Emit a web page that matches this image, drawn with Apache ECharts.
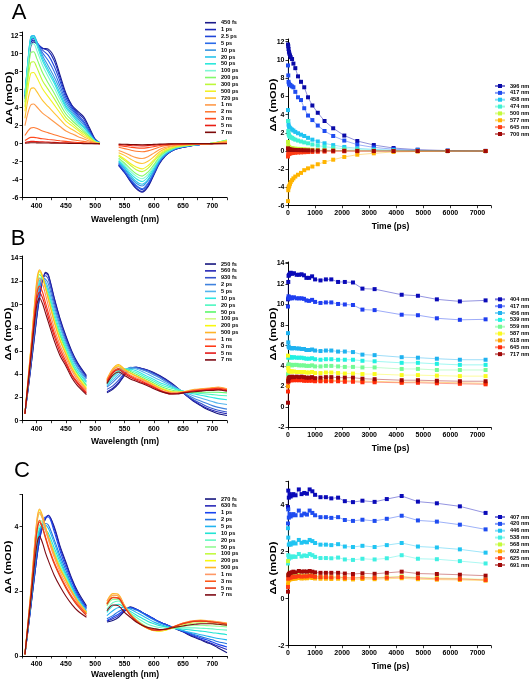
<!DOCTYPE html>
<html><head><meta charset="utf-8">
<script src="https://cdn.jsdelivr.net/npm/echarts@6/dist/echarts.min.js"></script>
<style>html,body{margin:0;padding:0;background:#fff}#c{width:529px;height:684px}</style>
</head><body><div id="c"></div>
<script>
// ---------- Panel A: spectra ----------
const wlA = [380,385,390,395,400,410,420,430,440,450,460,470,480,490,500,508, 524, 540,550,560,570,580,590,600,610,620,630,640,660,680,700,725];
const labelsA = ['450 fs','1 ps','2.5 ps','5 ps','10 ps','20 ps','50 ps','100 ps','200 ps','300 ps','500 ps','720 ps','1 ns','2 ns','3 ns','5 ns','7 ns'];
const colorsA = ['#1b1b8a','#1c2ab8','#1f45d8','#2a6ae8','#3a95e0','#28c4ec','#2ee8dc','#7ef7d4','#84f86a','#bdf83a','#f2f226','#ffc433','#ff9a4a','#ff7a33','#ff4a1e','#e81e14','#7d0a0a'];
const spectraA = [
 [5.0,8.0,10.8,11.3,11.1,10.6,10.5,9.6,7.6,5.6,4.3,3.6,3.0,1.8,0.5,0.1,null,-2.4,-3.2,-4.2,-5.0,-5.4,-4.8,-3.5,-2.2,-1.35,-0.85,-0.55,-0.27,-0.1,0,0.3],
 [5.2,8.3,11.2,11.5,11.2,10.6,10.3,9.2,7.3,5.4,4.2,3.4,2.8,1.6,0.4,0.1,null,-2.4,-3.2,-4.1,-4.9,-5.3,-4.7,-3.4,-2.1,-1.3,-0.85,-0.55,-0.27,-0.1,0,0.3],
 [5.3,8.6,11.4,11.7,11.3,10.4,9.8,8.6,6.9,5.1,4.0,3.2,2.5,1.4,0.4,0.1,null,-2.3,-3.1,-4.0,-4.7,-5.1,-4.5,-3.3,-2.0,-1.25,-0.8,-0.5,-0.25,-0.1,0.02,0.3],
 [5.4,8.8,11.6,11.8,11.3,10.1,9.2,8.0,6.4,4.8,3.8,3.0,2.3,1.3,0.35,0.1,null,-2.2,-3.0,-3.9,-4.65,-5.0,-4.4,-3.25,-2.0,-1.25,-0.8,-0.5,-0.25,-0.1,0.02,0.3],
 [5.5,9.0,11.8,12.0,11.4,9.8,8.6,7.4,6.0,4.5,3.6,2.8,2.1,1.2,0.3,0.1,null,-2.1,-2.8,-3.7,-4.4,-4.7,-4.1,-3.05,-1.9,-1.2,-0.75,-0.47,-0.23,-0.08,0.03,0.35],
 [5.5,9.1,11.9,12.0,11.3,9.5,8.2,7.0,5.6,4.2,3.4,2.6,1.9,1.1,0.3,0.1,null,-2.0,-2.7,-3.5,-4.2,-4.5,-4.0,-2.9,-1.8,-1.1,-0.72,-0.45,-0.22,-0.08,0.03,0.35],
 [5.4,9.0,11.7,11.8,11.0,9.2,7.9,6.7,5.3,4.0,3.2,2.4,1.8,1.0,0.3,0.1,null,-1.9,-2.5,-3.3,-3.9,-4.2,-3.7,-2.7,-1.7,-1.05,-0.67,-0.42,-0.2,-0.07,0.04,0.4],
 [5.0,8.5,11.0,11.1,10.4,8.7,7.4,6.2,4.9,3.7,2.9,2.2,1.6,0.9,0.25,0.05,null,-1.75,-2.35,-3.05,-3.6,-3.9,-3.45,-2.55,-1.6,-1.0,-0.62,-0.4,-0.2,-0.07,0.04,0.4],
 [4.6,7.8,10.1,10.2,9.5,7.9,6.7,5.6,4.4,3.3,2.6,2.0,1.4,0.8,0.2,0.05,null,-1.6,-2.15,-2.8,-3.35,-3.6,-3.15,-2.35,-1.45,-0.9,-0.58,-0.36,-0.18,-0.06,0.04,0.4],
 [4.1,7.0,9.0,9.1,8.5,7.0,6.0,5.0,3.9,2.9,2.3,1.7,1.2,0.7,0.2,0.05,null,-1.4,-1.85,-2.4,-2.9,-3.1,-2.75,-2.0,-1.25,-0.78,-0.5,-0.31,-0.15,-0.05,0.03,0.35],
 [3.6,6.1,7.8,7.9,7.4,6.1,5.2,4.3,3.4,2.5,2.0,1.5,1.0,0.6,0.15,0.05,null,-1.25,-1.7,-2.2,-2.6,-2.8,-2.45,-1.8,-1.1,-0.7,-0.45,-0.28,-0.14,-0.05,0.03,0.3],
 [2.8,4.8,6.1,6.2,5.8,4.8,4.1,3.4,2.7,2.0,1.6,1.2,0.8,0.45,0.1,0,null,-1.0,-1.3,-1.7,-2.05,-2.2,-1.95,-1.45,-0.9,-0.55,-0.35,-0.22,-0.11,-0.04,0.02,0.25],
 [2.0,3.4,4.3,4.4,4.1,3.4,2.9,2.4,1.9,1.4,1.1,0.8,0.55,0.3,0.1,0,null,-0.75,-1.0,-1.3,-1.55,-1.65,-1.45,-1.05,-0.65,-0.4,-0.26,-0.17,-0.08,-0.03,0.02,0.2],
 [0.9,1.4,1.75,1.8,1.7,1.4,1.2,1.0,0.8,0.6,0.45,0.35,0.25,0.15,0.05,0,null,-0.4,-0.55,-0.7,-0.85,-0.9,-0.8,-0.6,-0.36,-0.22,-0.15,-0.09,-0.05,-0.02,0.01,0.1],
 [0.35,0.55,0.7,0.7,0.65,0.55,0.47,0.4,0.32,0.25,0.18,0.13,0.1,0.05,0.02,0,null,-0.22,-0.3,-0.39,-0.47,-0.5,-0.44,-0.33,-0.2,-0.13,-0.08,-0.05,-0.03,-0.01,0,0.05],
 [0.12,0.2,0.25,0.25,0.23,0.2,0.17,0.14,0.11,0.09,0.07,0.05,0.03,0.02,0,0,null,-0.11,-0.15,-0.2,-0.23,-0.25,-0.22,-0.16,-0.1,-0.06,-0.04,-0.03,-0.01,0,0,0.02],
 [0.05,0.08,0.1,0.1,0.09,0.08,0.07,0.06,0.05,0.04,0.03,0.02,0.01,0,0,0,null,-0.05,-0.07,-0.09,-0.11,-0.12,-0.11,-0.08,-0.05,-0.03,-0.02,-0.01,0,0,0,0]
];
// ---------- Panel A: kinetics ----------
const timeA = [0,10,20,35,50,75,100,150,200,270,370,480,600,740,900,1100,1350,1670,2080,2560,3170,3900,4790,5900,7300];
const probeA = ['396 nm','417 nm','458 nm','474 nm','500 nm','577 nm','645 nm','700 nm'];
const kColorsA = ['#0a0aa8','#1f4cf0','#20c4f2','#3ef2d2','#c4fa3a','#ffb400','#ff3c14','#a00808'];
const kinA = [
 [11.7,11.5,11.2,10.9,10.7,10.5,10.3,10.1,9.6,9.1,8.2,7.6,7.0,5.9,5.0,4.2,3.3,2.5,1.7,1.1,0.66,0.33,0.15,0.05,0.02],
 [9.4,8.3,7.6,7.4,7.3,7.25,7.2,7.1,7.0,6.5,5.9,5.6,4.7,3.9,3.4,2.8,2.2,1.65,1.15,0.7,0.4,0.2,0.08,0.02,0],
 [4.5,3.3,2.9,2.7,2.6,2.5,2.45,2.35,2.25,2.1,1.95,1.8,1.65,1.45,1.25,1.05,0.85,0.65,0.45,0.3,0.18,0.1,0.05,0.02,0],
 [3.3,2.2,1.9,1.75,1.65,1.55,1.5,1.45,1.35,1.25,1.15,1.05,0.95,0.85,0.72,0.6,0.48,0.37,0.26,0.17,0.1,0.05,0.02,0,0],
 [1.0,0.6,0.45,0.4,0.37,0.35,0.33,0.3,0.28,0.26,0.24,0.22,0.2,0.17,0.14,0.12,0.09,0.07,0.05,0.03,0.02,0.01,0,0,0],
 [-5.5,-4.3,-4.0,-3.9,-3.8,-3.6,-3.4,-3.2,-3.0,-2.8,-2.6,-2.4,-2.1,-1.9,-1.7,-1.45,-1.2,-0.95,-0.65,-0.4,-0.25,-0.1,-0.05,0,0],
 [-0.6,-0.35,-0.3,-0.28,-0.26,-0.25,-0.24,-0.22,-0.2,-0.18,-0.16,-0.15,-0.13,-0.11,-0.1,-0.08,-0.06,-0.05,-0.03,-0.02,-0.01,0,0,0,0],
 [0.3,0.2,0.18,0.17,0.16,0.15,0.15,0.14,0.13,0.12,0.11,0.1,0.09,0.08,0.07,0.06,0.05,0.04,0.03,0.02,0.01,0,0,0,0]
];
// ---------- Panel B: spectra ----------
const wlB = [380,390,400,405,410,415,420,430,440,450,460,470,485, 502, 520,530,540,550,560,570,580,590,600,610,620,630,640,650,660,670,680,690,700,710,725];
const labelsB = ['250 fs','560 fs','930 fs','2 ps','5 ps','10 ps','20 ps','50 ps','100 ps','200 ps','500 ps','1 ns','3 ns','5 ns','7 ns'];
const colorsB = ['#15157e','#2424b4','#3552cc','#3f82de','#52b4ee','#2ee8e2','#4cf8c0','#5cf86a','#d4fa8a','#f8f80e','#ffb428','#ff8c58','#ff3a18','#e41818','#7d0a14'];
const spectraB = [
 [0.6,4.5,8.8,10.6,12.0,12.8,12.6,10.6,8.8,7.3,6.0,5.0,3.9,null,2.4,2.7,3.2,3.9,4.5,4.6,4.5,4.35,4.15,3.9,3.6,3.25,2.85,2.4,2.0,1.6,1.3,1.0,0.8,0.6,0.45],
 [0.6,4.6,8.9,10.7,12.0,12.7,12.5,10.5,8.7,7.2,5.9,4.9,3.8,null,2.5,2.8,3.3,4.0,4.5,4.6,4.5,4.35,4.1,3.85,3.55,3.2,2.8,2.4,2.0,1.65,1.35,1.1,0.9,0.75,0.6],
 [0.6,4.8,9.2,11.0,12.2,12.5,12.2,10.2,8.5,7.0,5.8,4.8,3.7,null,2.7,3.0,3.5,4.1,4.55,4.6,4.45,4.3,4.05,3.8,3.5,3.15,2.8,2.4,2.05,1.75,1.5,1.25,1.05,0.9,0.75],
 [0.6,5.0,9.6,11.4,12.3,12.2,11.8,9.9,8.2,6.8,5.6,4.6,3.6,null,2.9,3.3,3.8,4.3,4.6,4.55,4.4,4.2,3.95,3.7,3.4,3.1,2.8,2.45,2.15,1.9,1.7,1.5,1.3,1.15,1.0],
 [0.6,5.2,10.0,11.8,12.3,12.0,11.4,9.6,8.0,6.6,5.4,4.5,3.4,null,3.0,3.5,4.0,4.4,4.55,4.45,4.25,4.0,3.75,3.5,3.25,3.0,2.75,2.5,2.3,2.1,1.95,1.8,1.65,1.5,1.4],
 [0.6,5.4,10.4,12.1,12.3,11.8,11.1,9.3,7.7,6.4,5.2,4.3,3.3,null,3.1,3.7,4.2,4.45,4.45,4.3,4.05,3.8,3.55,3.3,3.1,2.9,2.7,2.55,2.4,2.3,2.2,2.1,2.0,1.9,1.8],
 [0.6,5.6,10.9,12.3,12.3,11.6,10.9,9.0,7.5,6.2,5.0,4.1,3.1,null,3.2,3.9,4.35,4.45,4.35,4.15,3.9,3.65,3.4,3.15,2.95,2.8,2.65,2.55,2.45,2.4,2.35,2.3,2.25,2.2,2.15],
 [0.6,5.8,11.3,12.6,12.3,11.5,10.7,8.8,7.3,6.0,4.8,4.0,3.0,null,3.3,4.1,4.5,4.45,4.25,4.0,3.75,3.5,3.25,3.0,2.8,2.65,2.55,2.5,2.45,2.45,2.45,2.45,2.45,2.45,2.4],
 [0.6,6.0,11.6,12.8,12.4,11.5,10.6,8.7,7.1,5.9,4.7,3.9,2.9,null,3.4,4.3,4.65,4.4,4.15,3.9,3.65,3.4,3.15,2.9,2.7,2.55,2.5,2.5,2.55,2.6,2.65,2.65,2.65,2.65,2.6],
 [0.6,6.1,11.8,12.9,12.4,11.5,10.5,8.6,7.0,5.8,4.6,3.8,2.8,null,3.5,4.4,4.75,4.4,4.1,3.85,3.6,3.35,3.1,2.85,2.65,2.5,2.45,2.5,2.55,2.65,2.7,2.75,2.75,2.8,2.7],
 [0.6,6.2,12.0,13.0,12.5,11.5,10.5,8.5,6.9,5.7,4.5,3.7,2.7,null,3.6,4.5,4.85,4.45,4.1,3.85,3.6,3.35,3.05,2.8,2.6,2.45,2.45,2.5,2.6,2.7,2.75,2.8,2.85,2.9,2.75],
 [0.6,6.0,11.4,12.3,11.8,10.9,9.9,8.0,6.5,5.4,4.3,3.5,2.6,null,3.5,4.35,4.65,4.3,3.95,3.7,3.5,3.25,2.95,2.7,2.5,2.4,2.4,2.45,2.55,2.65,2.7,2.75,2.8,2.85,2.7],
 [0.6,5.7,10.8,11.6,11.1,10.2,9.3,7.6,6.2,5.1,4.0,3.3,2.45,null,3.4,4.2,4.5,4.15,3.85,3.6,3.4,3.15,2.9,2.65,2.45,2.35,2.35,2.45,2.5,2.6,2.65,2.7,2.75,2.8,2.65],
 [0.6,5.5,10.4,11.1,10.6,9.8,8.9,7.3,5.9,4.9,3.9,3.2,2.35,null,3.3,4.1,4.4,4.05,3.75,3.5,3.3,3.1,2.85,2.6,2.4,2.3,2.35,2.4,2.5,2.55,2.6,2.65,2.7,2.7,2.6],
 [0.6,5.3,9.9,10.6,10.1,9.3,8.5,6.9,5.6,4.7,3.7,3.0,2.25,null,3.2,3.9,4.2,3.9,3.6,3.4,3.2,3.0,2.75,2.55,2.4,2.3,2.3,2.4,2.45,2.5,2.55,2.6,2.6,2.65,2.55]
];
// ---------- Panel B: kinetics ----------
const timeB = [0,10,20,40,70,100,150,220,320,410,500,590,680,780,890,1000,1200,1400,1600,1850,2100,2400,2750,3200,4200,4800,5500,6350,7300];
const probeB = ['404 nm','417 nm','456 nm','539 nm','559 nm','587 nm','618 nm','645 nm','717 nm'];
const kColorsB = ['#0a0ab8','#1f3ef0','#1fb2f0','#22f0e2','#74fa94','#fafa1e','#ffa000','#ff2a0a','#a00808'];
const kinB = [
 [10.5,12.2,12.8,12.9,13.0,13.1,13.0,13.05,12.9,12.9,12.95,12.85,12.6,12.6,12.75,12.45,12.35,12.45,12.45,12.2,12.2,12.15,11.55,11.5,10.95,10.85,10.5,10.3,10.4],
 [9.8,10.6,10.8,10.7,10.6,10.7,10.6,10.7,10.6,10.6,10.6,10.55,10.4,10.35,10.45,10.25,10.15,10.2,10.2,10.05,10.0,9.95,9.5,9.45,9.0,8.95,8.65,8.5,8.55],
 [7.2,6.3,5.9,5.8,5.75,5.75,5.7,5.75,5.7,5.7,5.65,5.65,5.55,5.55,5.6,5.5,5.45,5.5,5.5,5.4,5.4,5.35,5.1,5.05,4.85,4.8,4.7,4.6,4.6],
 [4.0,4.8,4.9,4.85,4.85,4.85,4.8,4.85,4.8,4.8,4.8,4.75,4.7,4.7,4.75,4.65,4.6,4.65,4.65,4.6,4.6,4.6,4.5,4.45,4.3,4.3,4.2,4.1,4.1],
 [3.2,4.0,4.15,4.1,4.1,4.1,4.05,4.1,4.1,4.05,4.05,4.05,4.0,4.0,4.05,3.95,3.95,4.0,4.0,3.95,3.9,3.9,3.85,3.85,3.7,3.7,3.6,3.6,3.6],
 [5.0,3.8,3.55,3.5,3.45,3.45,3.45,3.45,3.4,3.4,3.4,3.4,3.35,3.35,3.4,3.3,3.3,3.35,3.35,3.3,3.25,3.25,3.2,3.2,3.1,3.1,3.05,3.0,3.0],
 [2.0,2.6,2.7,2.7,2.7,2.7,2.7,2.7,2.7,2.7,2.7,2.65,2.65,2.6,2.65,2.6,2.6,2.6,2.6,2.55,2.55,2.55,2.5,2.5,2.4,2.45,2.4,2.35,2.3],
 [1.5,2.4,2.55,2.6,2.6,2.6,2.6,2.6,2.6,2.6,2.6,2.55,2.55,2.55,2.55,2.5,2.5,2.5,2.5,2.5,2.45,2.45,2.4,2.4,2.35,2.35,2.3,2.25,2.2],
 [0.4,2.5,2.8,2.85,2.9,2.9,2.95,2.9,2.95,2.9,2.95,2.9,2.85,2.85,2.9,2.8,2.85,2.9,2.9,2.85,2.85,2.85,2.75,2.7,2.6,2.6,2.55,2.5,2.5]
];
// ---------- Panel C: spectra ----------
const wlC = [380,390,400,405,410,415,420,430,440,450,460,470,485, 502, 520,530,540,550,560,570,580,590,600,610,620,630,640,650,660,670,680,690,700,710,725];
const labelsC = ['270 fs','630 fs','1 ps','2 ps','5 ps','10 ps','20 ps','50 ps','100 ps','200 ps','500 ps','1 ns','3 ns','5 ns','7 ns'];
const colorsC = ['#15157e','#2828b8','#1844f0','#2474e0','#22b4f0','#22e4d4','#64fac4','#94fa94','#c4fa44','#f8f80e','#ffb428','#ff9866','#ff5818','#e43818','#7d0a14'];
const spectraC = [
 [0.05,1.5,3.0,3.6,4.0,4.25,4.35,4.0,3.4,2.9,2.4,2.0,1.55,null,1.05,1.1,1.2,1.38,1.52,1.45,1.35,1.25,1.15,1.05,0.98,0.9,0.82,0.75,0.65,0.57,0.5,0.42,0.35,0.25,0.1],
 [0.05,1.5,3.0,3.6,4.0,4.25,4.35,3.95,3.35,2.85,2.35,1.95,1.5,null,1.08,1.15,1.25,1.4,1.5,1.45,1.35,1.25,1.15,1.05,0.98,0.9,0.83,0.75,0.67,0.6,0.52,0.45,0.38,0.3,0.2],
 [0.05,1.55,3.1,3.7,4.1,4.3,4.3,3.85,3.25,2.75,2.3,1.9,1.5,null,1.1,1.2,1.3,1.42,1.5,1.45,1.35,1.25,1.15,1.05,0.98,0.9,0.84,0.77,0.7,0.63,0.56,0.5,0.43,0.36,0.28],
 [0.05,1.6,3.2,3.8,4.05,4.1,4.05,3.6,3.1,2.65,2.2,1.85,1.45,null,1.15,1.25,1.38,1.45,1.48,1.42,1.33,1.22,1.12,1.03,0.96,0.9,0.84,0.78,0.72,0.66,0.6,0.55,0.5,0.44,0.38],
 [0.05,1.65,3.35,3.9,4.05,4.05,3.95,3.5,3.0,2.55,2.15,1.8,1.4,null,1.25,1.4,1.5,1.5,1.45,1.35,1.25,1.15,1.05,0.98,0.92,0.87,0.83,0.78,0.74,0.7,0.66,0.62,0.58,0.54,0.5],
 [0.05,1.7,3.5,3.95,4.0,3.9,3.8,3.35,2.9,2.5,2.1,1.75,1.35,null,1.35,1.55,1.6,1.5,1.38,1.27,1.17,1.07,1.0,0.94,0.9,0.87,0.85,0.83,0.81,0.79,0.77,0.75,0.72,0.7,0.66],
 [0.05,1.8,3.7,4.05,4.1,3.9,3.7,3.25,2.8,2.45,2.05,1.7,1.35,null,1.45,1.65,1.7,1.5,1.33,1.2,1.08,0.98,0.92,0.88,0.86,0.86,0.87,0.87,0.87,0.87,0.86,0.85,0.84,0.82,0.8],
 [0.05,1.85,3.85,4.2,4.15,3.9,3.65,3.2,2.75,2.4,2.0,1.7,1.35,null,1.55,1.75,1.75,1.5,1.3,1.13,1.0,0.9,0.85,0.82,0.82,0.85,0.88,0.92,0.94,0.95,0.95,0.94,0.93,0.92,0.9],
 [0.05,1.9,4.0,4.4,4.25,3.95,3.65,3.15,2.7,2.35,2.0,1.7,1.35,null,1.6,1.82,1.8,1.52,1.28,1.1,0.96,0.86,0.8,0.78,0.8,0.85,0.9,0.96,1.0,1.02,1.03,1.02,1.0,0.98,0.95],
 [0.05,1.95,4.1,4.5,4.3,4.0,3.65,3.15,2.7,2.35,2.0,1.7,1.35,null,1.65,1.88,1.85,1.55,1.28,1.08,0.94,0.84,0.78,0.77,0.8,0.86,0.93,1.0,1.05,1.08,1.09,1.08,1.06,1.04,1.0],
 [0.05,2.0,4.15,4.55,4.35,4.0,3.7,3.15,2.7,2.35,2.0,1.7,1.35,null,1.7,1.93,1.9,1.57,1.3,1.1,0.95,0.85,0.8,0.78,0.81,0.87,0.95,1.02,1.07,1.1,1.11,1.1,1.08,1.06,1.02],
 [0.05,1.95,4.05,4.45,4.25,3.9,3.6,3.05,2.6,2.25,1.95,1.65,1.3,null,1.65,1.88,1.85,1.55,1.28,1.1,0.96,0.86,0.8,0.79,0.82,0.88,0.95,1.02,1.07,1.1,1.1,1.09,1.07,1.05,1.0],
 [0.05,1.85,3.8,4.2,4.0,3.7,3.4,2.9,2.5,2.15,1.85,1.6,1.3,null,1.6,1.82,1.8,1.52,1.27,1.1,0.96,0.87,0.81,0.8,0.83,0.88,0.95,1.01,1.05,1.08,1.08,1.07,1.05,1.03,0.98],
 [0.05,1.85,3.8,4.15,3.95,3.65,3.35,2.85,2.45,2.1,1.8,1.55,1.25,null,1.6,1.8,1.78,1.5,1.26,1.08,0.95,0.86,0.8,0.8,0.83,0.88,0.94,1.0,1.04,1.07,1.08,1.07,1.05,1.03,0.98],
 [0.05,1.7,3.4,3.7,3.5,3.2,2.95,2.5,2.15,1.85,1.6,1.4,1.2,null,1.4,1.58,1.55,1.35,1.2,1.05,0.95,0.88,0.85,0.82,0.83,0.87,0.9,0.93,0.96,0.98,1.0,1.0,1.0,0.98,0.95]
];
// ---------- Panel C: kinetics ----------
const timeC = [0,10,30,60,100,150,200,280,400,500,600,700,800,900,1000,1200,1400,1600,1850,2100,2400,2750,3200,3650,4200,4800,5500,6350,7300];
const probeC = ['407 nm','420 nm','446 nm','538 nm','568 nm','602 nm','625 nm','691 nm'];
const kColorsC = ['#0a0ab8','#1f4cf0','#20c4f2','#40f0e2','#c4fa3a','#ffb400','#ff3c14','#a00808'];
const kinC = [
 [3.9,4.6,4.3,4.45,4.35,4.4,4.45,4.4,4.65,4.45,4.5,4.47,4.65,4.57,4.42,4.32,4.32,4.27,4.3,4.15,4.11,4.17,4.12,4.24,4.37,4.13,4.06,3.93,3.65],
 [3.2,3.8,3.45,3.6,3.5,3.55,3.6,3.55,3.75,3.55,3.62,3.58,3.75,3.65,3.55,3.47,3.47,3.44,3.47,3.35,3.31,3.36,3.31,3.4,3.53,3.33,3.28,3.15,2.95],
 [3.0,2.6,2.3,2.35,2.3,2.35,2.4,2.35,2.5,2.38,2.42,2.4,2.5,2.45,2.37,2.3,2.3,2.28,2.32,2.22,2.2,2.25,2.2,2.28,2.37,2.22,2.18,2.1,1.96],
 [1.5,1.85,1.7,1.8,1.75,1.78,1.8,1.78,1.9,1.8,1.84,1.82,1.9,1.85,1.78,1.73,1.73,1.72,1.75,1.67,1.65,1.7,1.67,1.72,1.85,1.7,1.68,1.6,1.5],
 [1.6,1.0,0.9,0.95,0.95,0.95,0.97,0.95,1.0,0.97,0.98,0.97,1.0,0.98,0.95,0.93,0.93,0.92,0.93,0.9,0.88,0.9,0.89,0.92,0.95,0.9,0.88,0.86,0.82],
 [0.6,0.75,0.8,0.82,0.83,0.84,0.85,0.85,0.88,0.86,0.87,0.87,0.9,0.88,0.86,0.85,0.85,0.84,0.85,0.83,0.82,0.84,0.83,0.85,0.87,0.83,0.81,0.8,0.77],
 [0.5,0.85,0.9,0.9,0.9,0.92,0.93,0.93,0.96,0.94,0.95,0.95,0.98,0.96,0.93,0.92,0.92,0.91,0.92,0.89,0.88,0.9,0.88,0.9,0.92,0.88,0.85,0.84,0.8],
 [0.3,1.0,1.05,1.1,1.1,1.12,1.15,1.12,1.18,1.15,1.16,1.15,1.18,1.15,1.12,1.1,1.1,1.1,1.1,1.07,1.05,1.08,1.06,1.1,1.15,1.07,1.05,1.02,0.98]
];

// ---------- build ----------
const FONT = '"Liberation Sans", Arial, sans-serif';
const lab = (step) => (v) => (Math.abs(v / step - Math.round(v / step)) < 1e-6 ? String(Math.round(v)) : '');
function axis(gi, min, max, interval, step, margin) {
  return {
    type: 'value', gridIndex: gi, min: min, max: max, interval: interval,
    axisLine: { show: true, onZero: false, lineStyle: { color: '#000', width: 1 } },
    axisTick: { show: true, length: 2.5, lineStyle: { color: '#000', width: 0.8 } },
    splitLine: { show: false },
    axisLabel: { fontSize: 7, fontWeight: 'bold', color: '#000', margin: margin, fontFamily: FONT, formatter: lab(step) }
  };
}
function specSeries(p, gi, wl, rows, labels, colors) {
  return rows.map((r, i) => ({
    type: 'line', name: p + '|' + labels[i], xAxisIndex: gi, yAxisIndex: gi,
    data: wl.map((w, j) => [w, r[j] == null ? '-' : r[j]]),
    symbol: 'none', smooth: 0.3, connectNulls: false,
    lineStyle: { color: colors[i], width: 1.1 }, itemStyle: { color: colors[i] }
  }));
}
function kinSeries(p, gi, t, rows, labels, colors) {
  return rows.map((r, i) => ({
    type: 'line', name: p + '|' + labels[i], xAxisIndex: gi, yAxisIndex: gi,
    data: t.map((x, j) => [x, r[j]]),
    symbol: 'rect', symbolSize: 4, showAllSymbol: true,
    lineStyle: { color: colors[i], width: 0.8, opacity: 0.55 }, itemStyle: { color: colors[i] }
  }));
}
function legend(p, labels, left, top, isLine) {
  return {
    data: labels.map(l => p + '|' + l), orient: 'vertical', left: left, top: top, padding: 0,
    itemGap: 0, itemWidth: isLine ? 11 : 10, itemHeight: isLine ? 1.6 : 5,
    icon: isLine ? 'rect' : undefined, selectedMode: false,
    formatter: n => n.split('|')[1],
    textStyle: { fontSize: 5.6, fontWeight: 'bold', color: '#000', lineHeight: 6.85, fontFamily: FONT }
  };
}
function txt(t, x, y, size, opts) {
  return Object.assign({ type: 'text', x: x, y: y, silent: true,
    style: { text: t, fill: '#000', fontSize: size, fontWeight: 'bold', fontFamily: FONT, align: 'center', verticalAlign: 'middle' } }, opts || {});
}
function letter(t, x, y) {
  return { type: 'text', x: x, y: y, silent: true,
    style: { text: t, fill: '#000', fontSize: 22, fontWeight: 'normal', fontFamily: FONT, align: 'center', verticalAlign: 'middle' } };
}

const option = {
  animation: false,
  backgroundColor: '#fff',
  grid: [
    { left: 22, top: 32, width: 205, height: 165.7 },
    { left: 288, top: 39, width: 203, height: 166.7 },
    { left: 22, top: 256, width: 205, height: 164.7 },
    { left: 288, top: 262, width: 203, height: 165.3 },
    { left: 22, top: 494.4, width: 205, height: 161.6 },
    { left: 288, top: 481.2, width: 203, height: 164.5 }
  ],
  xAxis: [
    axis(0, 375, 725, 25, 50, 5), axis(1, 0, 7500, 1000, 1000, 4),
    axis(2, 375, 725, 25, 50, 5), axis(3, 0, 7500, 1000, 1000, 4),
    axis(4, 375, 725, 25, 50, 5), axis(5, 0, 7500, 1000, 1000, 4)
  ],
  yAxis: [
    axis(0, -6, 12.4, 2, 2, 3.5), axis(1, -6, 12.3, 2, 2, 3.5),
    axis(2, 0, 14.2, 2, 2, 3.5), axis(3, -2, 14.15, 2, 2, 3.5),
    axis(4, 0, 5, 2, 2, 3.5), axis(5, -2, 5, 2, 2, 3.5)
  ],
  legend: [
    legend('A', labelsA, 205, 19.3, true),
    legend('a', probeA, 494, 82.6, false),
    legend('B', labelsB, 205, 260.6, true),
    legend('b', probeB, 494, 295.9, false),
    legend('C', labelsC, 205, 495.6, true),
    legend('c', probeC, 494, 513.6, false)
  ],
  series: [].concat(
    specSeries('A', 0, wlA, spectraA, labelsA, colorsA),
    kinSeries('a', 1, timeA, kinA, probeA, kColorsA),
    specSeries('B', 2, wlB, spectraB, labelsB, colorsB),
    kinSeries('b', 3, timeB, kinB, probeB, kColorsB),
    specSeries('C', 4, wlC, spectraC, labelsC, colorsC),
    kinSeries('c', 5, timeC, kinC, probeC, kColorsC)
  ),
  graphic: [
    letter('A', 19, 13), letter('B', 18, 239), letter('C', 22, 471),
    txt('Wavelength (nm)', 125, 220, 8.5),
    txt('Wavelength (nm)', 125, 442, 8.5),
    txt('Wavelength (nm)', 125, 675, 8.5),
    txt('Time (ps)', 390.5, 227, 8.5),
    txt('Time (ps)', 390.5, 449, 8.5),
    txt('Time (ps)', 390.5, 667, 8.5),
    txt('\u0394A (mOD)', 10, 98, 8.5, { rotation: Math.PI / 2, scaleX: 1.3 }),
    txt('\u0394A (mOD)', 274, 105, 8.5, { rotation: Math.PI / 2, scaleX: 1.3 }),
    txt('\u0394A (mOD)', 9, 334, 8.5, { rotation: Math.PI / 2, scaleX: 1.3 }),
    txt('\u0394A (mOD)', 274, 334, 8.5, { rotation: Math.PI / 2, scaleX: 1.3 }),
    txt('\u0394A (mOD)', 9, 567, 8.5, { rotation: Math.PI / 2, scaleX: 1.3 }),
    txt('\u0394A (mOD)', 274, 568, 8.5, { rotation: Math.PI / 2, scaleX: 1.3 })
  ]
};
const chart = echarts.init(document.getElementById('c'), null, { renderer: 'canvas' });
chart.setOption(option);
</script></body></html>
